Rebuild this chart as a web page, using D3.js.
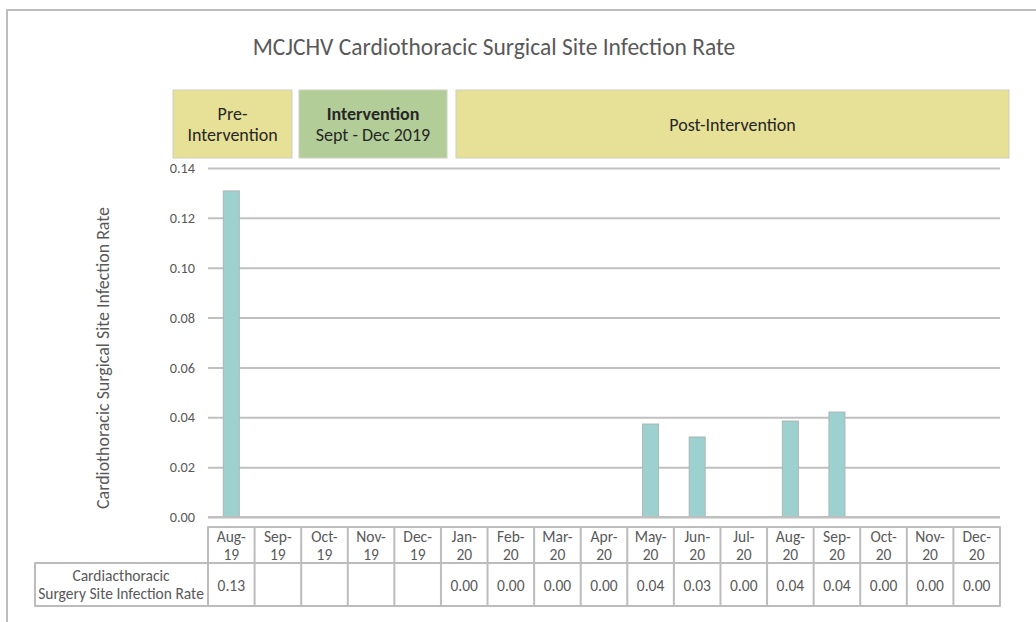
<!DOCTYPE html>
<html><head><meta charset="utf-8">
<script src="https://cdn.jsdelivr.net/npm/d3@7"></script>
<style>body{margin:0;background:#fff;} svg{display:block;font-family:Carlito,Lato,"Open Sans",sans-serif;}</style>
</head><body>
<script>
const months = ["Aug-19","Sep-19","Oct-19","Nov-19","Dec-19","Jan-20","Feb-20","Mar-20","Apr-20","May-20","Jun-20","Jul-20","Aug-20","Sep-20","Oct-20","Nov-20","Dec-20"];
const rates = [0.1308,null,null,null,null,0,0,0,0,0.0373,0.0321,0,0.0385,0.0421,0,0,0];
const tableLabels = ["0.13","","","","","0.00","0.00","0.00","0.00","0.04","0.03","0.00","0.04","0.04","0.00","0.00","0.00"];
const yTicks = [0,0.02,0.04,0.06,0.08,0.10,0.12,0.14];
const phases = [
  {label:["Pre-","Intervention"], bold:[false,false], x0:173, x1:292, fill:"#e6e196"},
  {label:["Intervention","Sept - Dec 2019"], bold:[true,false], x0:299, x1:447, fill:"#b3cd98"},
  {label:["Post-Intervention"], bold:[false], x0:456, x1:1009, fill:"#e6e196"}
];
const seriesName = ["Cardiacthoracic","Surgery Site Infection Rate"];

const W=1036,H=622;
const svg=d3.select("body").append("svg").attr("width",W).attr("height",H);
svg.append("path").attr("d","M7,622V10H1036").attr("fill","none").attr("stroke","#bdbdbd").attr("stroke-width",2);

svg.append("text").attr("x",494).attr("y",55).attr("text-anchor","middle")
  .attr("font-size",23.5).attr("fill","#595959").text("MCJCHV Cardiothoracic Surgical Site Infection Rate");

phases.forEach(p=>{
  svg.append("rect").attr("x",p.x0).attr("y",90).attr("width",p.x1-p.x0).attr("height",68)
    .attr("fill",p.fill).attr("stroke","#cfcfc0").attr("stroke-width",1);
  const cx=(p.x0+p.x1)/2;
  const n=p.label.length;
  p.label.forEach((t,i)=>{
    svg.append("text").attr("x",cx).attr("y",(n===1?131:120+i*21))
      .attr("text-anchor","middle").attr("font-size",18).attr("fill","#262626")
      .attr("font-weight",p.bold[i]?"bold":"normal").text(t);
  });
});

const xc=d3.scaleBand().domain(months).range([208,1000]);
const y=d3.scaleLinear().domain([0,0.14]).range([517,168]);

const yAxis=d3.axisLeft(y).tickValues(yTicks).tickFormat(d3.format(".2f")).tickSize(-792).tickPadding(13);
const ga=svg.append("g").attr("transform","translate(208,0)").call(yAxis);
ga.select(".domain").remove();
ga.selectAll(".tick line").attr("stroke","#c0c0c0").attr("stroke-width",2);
ga.selectAll(".tick text").attr("fill","#595959").attr("font-size",14.3).attr("font-family","Carlito,Lato,sans-serif");

svg.append("text").attr("transform","translate(109,358) rotate(-90)").attr("text-anchor","middle")
  .attr("font-size",17.9).attr("fill","#595959").text("Cardiothoracic Surgical Site Infection Rate");

svg.append("g").selectAll("rect").data(months.map((m,i)=>({m,v:rates[i]})).filter(d=>d.v>0))
  .join("rect").attr("x",d=>xc(d.m)+xc.bandwidth()/2-8).attr("width",16)
  .attr("y",d=>y(d.v)).attr("height",d=>y(0)-y(d.v))
  .attr("fill","#9dd1cf").attr("stroke","#a9b7b6").attr("stroke-width",1);
svg.append("line").attr("x1",208).attr("x2",1000).attr("y1",y(0)).attr("y2",y(0)).attr("stroke","#bfbfbf").attr("stroke-width",2);

const tc="#bcbcbc";
const tg=svg.append("g");
const tTop=527, tMid=563, tBot=606, tLeft=35;
tg.append("path").attr("d",`M${tLeft},${tMid}H208V${tTop}H1000V${tBot}H${tLeft}Z`).attr("fill","none").attr("stroke",tc).attr("stroke-width",2).attr("stroke-linejoin","round");
tg.append("line").attr("x1",tLeft).attr("x2",1000).attr("y1",tMid).attr("y2",tMid).attr("stroke",tc).attr("stroke-width",2);
tg.selectAll("line.v").data(months.slice(1)).join("line").attr("class","v")
  .attr("x1",d=>xc(d)).attr("x2",d=>xc(d)).attr("y1",tTop).attr("y2",tBot).attr("stroke",tc).attr("stroke-width",2);
tg.append("line").attr("x1",208).attr("x2",208).attr("y1",tTop).attr("y2",tBot).attr("stroke",tc).attr("stroke-width",2);
const fs=15.5;
months.forEach((m,i)=>{
  const cx=xc(m)+xc.bandwidth()/2;
  const [a,b]=m.split("-");
  tg.append("text").attr("x",cx).attr("y",542).attr("text-anchor","middle").attr("font-size",fs).attr("fill","#595959").text(a+"-");
  tg.append("text").attr("x",cx).attr("y",560).attr("text-anchor","middle").attr("font-size",fs).attr("fill","#595959").text(b);
  tg.append("text").attr("x",cx).attr("y",591).attr("text-anchor","middle").attr("font-size",fs).attr("fill","#595959").text(tableLabels[i]);
});
seriesName.forEach((t,i)=>{
  tg.append("text").attr("x",121).attr("y",581+i*18).attr("text-anchor","middle").attr("font-size",fs).attr("fill","#595959").text(t);
});
</script>
</body></html>
